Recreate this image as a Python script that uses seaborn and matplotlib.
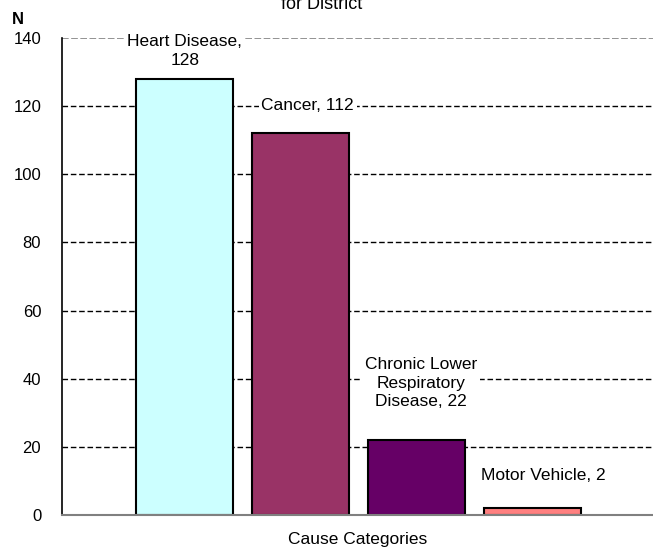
import pandas as pd
import matplotlib
matplotlib.use("Agg")
import matplotlib.pyplot as plt
import seaborn as sns

# === Data ===
causes = ["Heart Disease", "Cancer", "Chronic Lower Respiratory Disease", "Motor Vehicle"]
counts = [128, 112, 22, 2]
bar_colors = ["#CCFFFF", "#993366", "#660066", "#FF8080"]
point_labels = ["Heart Disease,\n128", "Cancer, 112", "Chronic Lower\nRespiratory\nDisease, 22", "Motor Vehicle, 2"]
label_x_shift = [0.0, 0.06, 0.04, 0.09]
label_y = [136.2, 120.3, 38.7, 11.7]
yticks = [0, 20, 40, 60, 80, 100, 120, 140]

df = pd.DataFrame({"cause": causes, "n": counts})

sns.set_style("white")
plt.rcParams["font.family"] = ["Liberation Sans", "DejaVu Sans"]
plt.rcParams["text.color"] = "black"
plt.rcParams["axes.labelcolor"] = "black"
plt.rcParams["ytick.color"] = "black"

fig = plt.figure(figsize=(6.53, 5.54), dpi=100)
ax = fig.add_axes([0.095, 0.0704, 0.905, 0.861])

# gridlines first so bars sit on top
for t in yticks:
    if t == 140:
        ax.axhline(t, color="#808080", lw=1.2, ls=(0, (4, 1.5)), zorder=0)
    elif t != 0:
        ax.axhline(t, color="black", lw=1.0, ls=(0, (4, 2)), zorder=0)

sns.barplot(data=df, x="cause", y="n", hue="cause", palette=bar_colors,
            legend=False, width=0.835, edgecolor="black", linewidth=1.5,
            saturation=1, ax=ax, zorder=2)

for i, (lab, ly) in enumerate(zip(point_labels, label_y)):
    ax.text(i + label_x_shift[i], ly, lab, ha="center", va="center",
            fontsize=12.5, linespacing=1.3, zorder=3,
            bbox=dict(facecolor="white", edgecolor="none", pad=2))

ax.set_xlim(-1.06, 4.04)
ax.set_ylim(0, 140)
ax.set_yticks(yticks)
ax.set_xticks([])
ax.set_xlabel("Cause Categories", fontsize=12.5, labelpad=12)
ax.set_ylabel("")
ax.tick_params(axis="y", length=4, width=1, color="#808080", labelsize=12, pad=11)

for s in ["top", "right"]:
    ax.spines[s].set_visible(False)
ax.spines["left"].set_color("black")
ax.spines["left"].set_linewidth(1.2)
ax.spines["bottom"].set_color("#808080")
ax.spines["bottom"].set_linewidth(1.5)

fig.text(0.0275, 0.964, "N", fontsize=12, fontweight="bold", ha="center", va="center")
fig.text(0.493, 0.984, "for District", fontsize=13, ha="center", va="baseline")

fig.savefig("out.png", dpi=100)
